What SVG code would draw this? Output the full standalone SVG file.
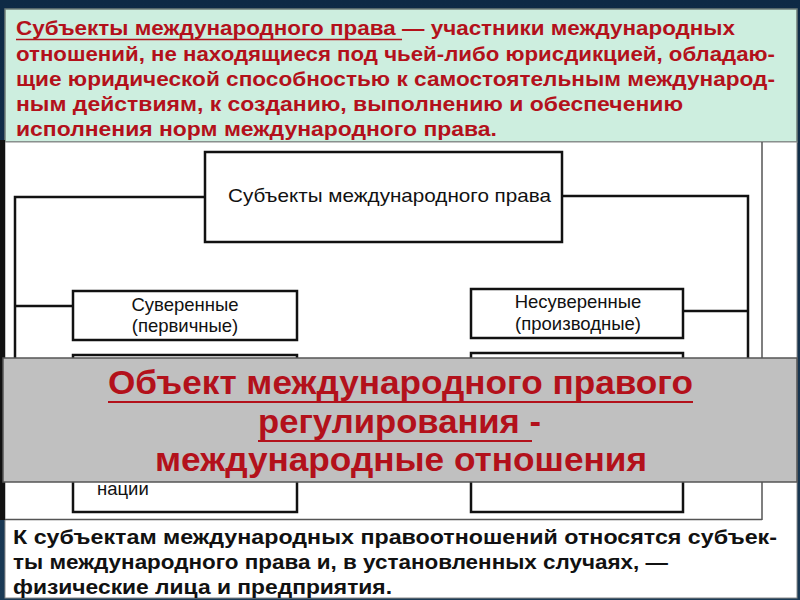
<svg xmlns="http://www.w3.org/2000/svg" width="800" height="600" viewBox="0 0 800 600">
<defs>
<style>
.red{fill:#b3111b;font-family:"Liberation Sans",Arial,sans-serif;font-weight:bold}
.top{font-size:21px}
.ov{font-size:33px}
.blk{fill:#111;font-family:"Liberation Sans",Arial,sans-serif;font-weight:bold;font-size:20px}
.lbl{fill:#111;font-family:"Liberation Sans",Arial,sans-serif;font-size:18.5px}
.box{fill:#fff;stroke:#111;stroke-width:2.5}
.conn{fill:none;stroke:#111;stroke-width:2.5}
</style>
<linearGradient id="bg" x1="0" y1="0" x2="0" y2="1">
<stop offset="0" stop-color="#0e2a45"/>
<stop offset="1" stop-color="#1b3a55"/>
</linearGradient>
</defs>
<rect x="0" y="0" width="800" height="600" fill="url(#bg)"/>
<rect x="5" y="9" width="792" height="133" fill="#cdeedf" stroke="#6f7d78" stroke-width="1.5"/>
<rect x="5" y="142" width="792" height="456" fill="#ffffff" stroke="#8a8a8a" stroke-width="1"/>
<rect x="0" y="140" width="5" height="380" fill="#111"/>
<line x1="762" y1="142" x2="762" y2="520" stroke="#555" stroke-width="1.5"/>
<line x1="5" y1="519.5" x2="762" y2="519.5" stroke="#555" stroke-width="1.5"/>

<g id="definition">
<text class="red top" x="16" y="35" textLength="719" lengthAdjust="spacingAndGlyphs">Субъекты международного права — участники международных</text>
<line x1="16" y1="39.5" x2="402" y2="39.5" stroke="#b3111b" stroke-width="1.5"/>
<text class="red top" x="16" y="61" textLength="759" lengthAdjust="spacingAndGlyphs">отношений, не находящиеся под чьей-либо юрисдикцией, обладаю-</text>
<text class="red top" x="16" y="86" textLength="759" lengthAdjust="spacingAndGlyphs">щие юридической способностью к самостоятельным международ-</text>
<text class="red top" x="16" y="111" textLength="667" lengthAdjust="spacingAndGlyphs">ным действиям, к созданию, выполнению и обеспечению</text>
<text class="red top" x="16" y="136" textLength="481" lengthAdjust="spacingAndGlyphs">исполнения норм международного права.</text>
</g>

<g id="connectors">
<polyline class="conn" points="205,197 15,197 15,480"/>
<polyline class="conn" points="562,196 748,196 748,480"/>
<line class="conn" x1="15" y1="306" x2="73" y2="306"/>
<line class="conn" x1="683" y1="311" x2="748" y2="311"/>
</g>

<g id="root">
<rect class="box" x="205" y="152" width="357" height="90"/>
<text class="lbl" x="228" y="202" textLength="323" lengthAdjust="spacingAndGlyphs">Субъекты международного права</text>
</g>
<g id="sovereign">
<rect class="box" x="73" y="291" width="224" height="49"/>
<text class="lbl" x="185" y="311" text-anchor="middle">Суверенные</text>
<text class="lbl" x="185" y="332" text-anchor="middle">(первичные)</text>
</g>
<g id="nonsovereign">
<rect class="box" x="471" y="289" width="212" height="49"/>
<text class="lbl" x="578" y="308" text-anchor="middle">Несуверенные</text>
<text class="lbl" x="578" y="330" text-anchor="middle">(производные)</text>
</g>
<g id="sovereign2">
<rect class="box" x="73" y="355" width="224" height="157"/>
<text class="lbl" x="97" y="495">нации</text>
</g>
<g id="nonsovereign2">
<rect class="box" x="471" y="353" width="212" height="159"/>
</g>

<g id="overlay">
<rect x="3" y="358" width="794" height="124" fill="#c0c0c0" stroke="#555" stroke-width="1.5"/>
<text class="red ov" x="108" y="394" textLength="585" lengthAdjust="spacingAndGlyphs">Объект международного правого</text>
<line x1="108" y1="402" x2="693" y2="402" stroke="#b3111b" stroke-width="2"/>
<text class="red ov" x="258" y="433" textLength="283" lengthAdjust="spacingAndGlyphs">регулирования -</text>
<line x1="258" y1="441" x2="532" y2="441" stroke="#b3111b" stroke-width="2"/>
<text class="red ov" x="155" y="471" textLength="492" lengthAdjust="spacingAndGlyphs">международные отношения</text>
</g>

<g id="note">
<text class="blk" x="13" y="544" textLength="764" lengthAdjust="spacingAndGlyphs">К субъектам международных правоотношений относятся субъек-</text>
<text class="blk" x="13" y="569" textLength="655" lengthAdjust="spacingAndGlyphs">ты международного права и, в установленных случаях, —</text>
<text class="blk" x="13" y="594" textLength="379" lengthAdjust="spacingAndGlyphs">физические лица и предприятия.</text>
</g>
</svg>
